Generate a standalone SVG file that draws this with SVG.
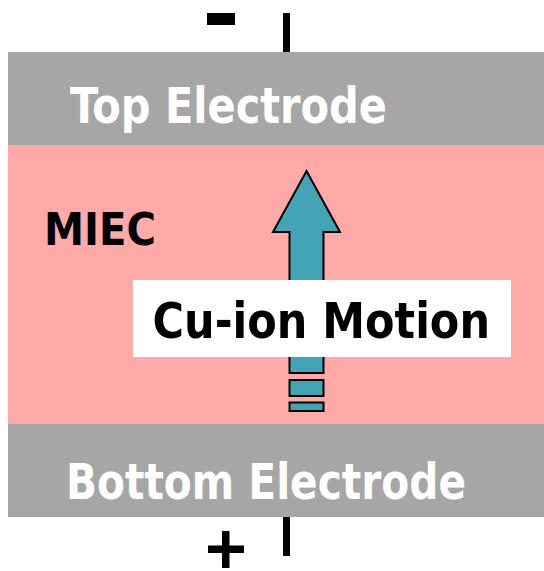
<svg xmlns="http://www.w3.org/2000/svg" width="544" height="571" viewBox="0 0 544 571">
<style>
.el{fill:#a6a6a6}
.wire{fill:#000}
.arr{fill:#45a3b6;stroke:#000;stroke-width:2}
.wt{font-family:"DejaVu Sans Condensed","DejaVu Sans",Verdana,sans-serif;font-weight:bold;fill:#fff}
.bt{font-family:"DejaVu Sans Condensed","DejaVu Sans",Verdana,sans-serif;font-weight:bold;fill:#000}
</style>
<rect width="544" height="571" fill="#fff"/>
<g id="miec">
<rect x="8" y="145" width="536" height="279" fill="#ffaaa8"/>
<text class="bt" x="44" y="245" font-size="45" textLength="112" lengthAdjust="spacingAndGlyphs">MIEC</text>
</g>
<g id="top-electrode">
<rect class="el" x="8" y="52" width="536" height="93"/>
<text class="wt" x="70" y="122.7" font-size="49" textLength="317" lengthAdjust="spacingAndGlyphs">Top Electrode</text>
</g>
<g id="bottom-electrode">
<rect class="el" x="8" y="424" width="536" height="93"/>
<text class="wt" x="66" y="499.3" font-size="49" textLength="400" lengthAdjust="spacingAndGlyphs">Bottom Electrode</text>
</g>
<g id="terminals">
<rect class="wire" x="283" y="13" width="7" height="39"/>
<rect class="wire" x="207" y="13" width="28" height="12"/>
<rect class="wire" x="283" y="517" width="7" height="39"/>
<rect class="wire" x="208" y="545.5" width="36" height="7.5"/>
<rect class="wire" x="222" y="531" width="7.5" height="37"/>
</g>
<g id="connectors">
<path class="arr" d="M306.5,171 L340,232 L323.5,232 L323.5,373 L289.5,373 L289.5,232 L273,232 Z"/>
<rect class="arr" x="289.5" y="380" width="34" height="16"/>
<rect class="arr" x="289.5" y="402.5" width="34" height="8.5"/>
</g>
<g id="label">
<rect x="133" y="280" width="378" height="77" fill="#fff"/>
<text class="bt" x="152.5" y="338.3" font-size="49" textLength="337.5" lengthAdjust="spacingAndGlyphs">Cu-ion Motion</text>
</g>
</svg>
